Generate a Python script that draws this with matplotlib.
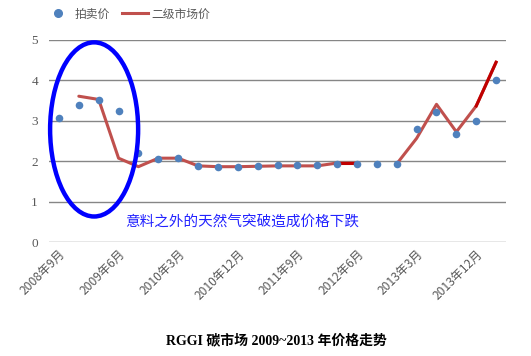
import numpy as np
import matplotlib
matplotlib.use('Agg')
import matplotlib.pyplot as plt
from matplotlib.patches import Ellipse
from matplotlib.lines import Line2D

plt.rcParams['font.family'] = ['Noto Sans CJK SC', 'DejaVu Sans']

# quarterly auctions, Sep 2008 .. Mar 2014
quarters = ['2008年9月', '2008年12月', '2009年3月', '2009年6月', '2009年9月', '2009年12月',
            '2010年3月', '2010年6月', '2010年9月', '2010年12月', '2011年3月', '2011年6月',
            '2011年9月', '2011年12月', '2012年3月', '2012年6月', '2012年9月', '2012年12月',
            '2013年3月', '2013年6月', '2013年9月', '2013年12月', '2014年3月']
auction = [3.07, 3.38, 3.51, 3.23, 2.19, 2.05, 2.07, 1.88, 1.86, 1.86, 1.88, 1.89,
           1.89, 1.89, 1.93, 1.93, 1.93, 1.93, 2.80, 3.21, 2.67, 3.00, 4.00]
secondary = [np.nan, 3.60, 3.52, 2.07, 1.86, 2.07, 2.07, 1.88, 1.86, 1.86, 1.87, 1.88,
             1.88, 1.88, 1.95, 1.95, np.nan, 1.93, 2.56, 3.40, 2.72, 3.36, 4.44]
dark_segments = [(14, 15), (21, 22)]  # drawn in darker red in the original
note = '意料之外的天然气突破造成价格下跌'
title = 'RGGI 碳市场 2009~2013 年价格走势'

fig = plt.figure(figsize=(5.31, 3.56), dpi=100)
ax = fig.add_axes([0.0923, 0.3202, 0.8607, 0.5688])

x = np.arange(len(quarters))
sec = np.array(secondary)
ax.plot(x, sec, color='#C0504D', lw=2.2, solid_capstyle='round', zorder=2)
for a, b in dark_segments:
    ax.plot(x[a:b + 1], sec[a:b + 1], color='#C00000', lw=2.2, zorder=3)
ax.scatter(x, auction, s=30, color='#4F81BD', zorder=4, linewidths=0)

ax.set_xlim(-0.5, len(quarters) - 0.5)
ax.set_ylim(0, 5)
ax.set_yticks(range(6))
ax.yaxis.grid(True, color='#868686', lw=1)
ax.set_axisbelow(True)
for s in ax.spines.values():
    s.set_visible(False)
ax.tick_params(axis='both', length=0)
ax.set_yticklabels([str(v) for v in range(6)], family='Liberation Serif', fontsize=9.5, color='#595959')
ax.tick_params(axis='y', pad=8)

ax.set_xticks(x[::3])
ax.set_xticklabels(quarters[::3], rotation=45, ha='right', rotation_mode='anchor',
                   fontsize=8.7, color='#595959')
ax.tick_params(axis='x', pad=4)

ell = Ellipse((1.77, 2.78), 4.43, 4.30, fill=False, ec='#0000FF', lw=3.2, zorder=5, clip_on=False)
ax.add_patch(ell)
ax.text(3.33, 0.5, note, color='#2222FF', fontsize=10.5, va='center', ha='left')

handles = [Line2D([], [], ls='none', marker='o', ms=5.5, color='#4F81BD'),
           Line2D([], [], color='#C0504D', lw=2.2)]
fig.legend(handles, ['拍卖价', '二级市场价'], loc='center left', bbox_to_anchor=(0.065, 0.961),
           ncol=2, frameon=False, fontsize=8.5, labelcolor='#595959', handlelength=2.2,
           handletextpad=0.3, columnspacing=1.0)

fig.text(0.52, 0.045, title, ha='center', va='center', fontsize=10, fontweight='bold',
         family=['Liberation Serif', 'Noto Sans CJK SC'])

fig.savefig('out.png', dpi=100)
